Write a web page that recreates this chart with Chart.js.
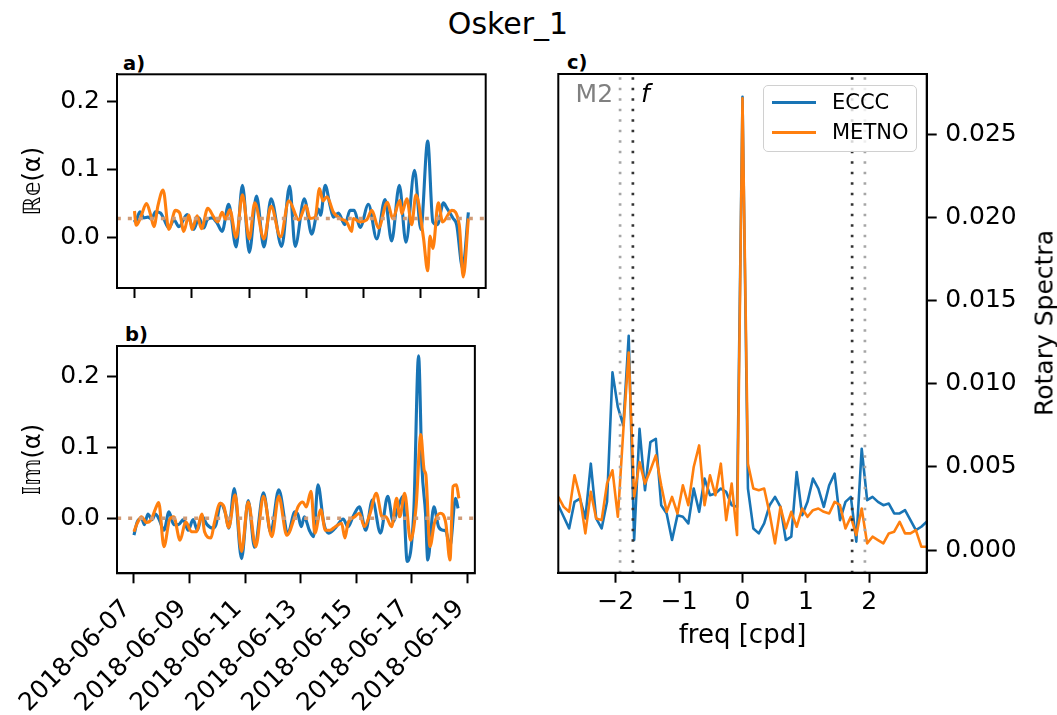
<!DOCTYPE html>
<html>
<head>
<meta charset="utf-8">
<script src="https://cdn.jsdelivr.net/npm/chart.js@4.4.1/dist/chart.umd.min.js"></script>
<style>
  body { margin: 0; background: #fff; }
  #fig { position: relative; width: 1057px; height: 715px; overflow: hidden; font-family: 'DejaVu Sans', sans-serif; color: #000; }
  #fig canvas { position: absolute; }
  .txt { position: absolute; white-space: nowrap; line-height: 1; }
  .panel { font-size: 19.5px; font-weight: bold; }
  #suptitle { left: 0; width: 1016px; top: 9px; font-size: 30px; text-align: center; }
  #ylab-spec { left: 1044px; top: 323px; font-size: 25px; transform: translate(-50%, -50%) rotate(-90deg); }
  #legend { position: absolute; left: 763px; top: 85px; width: 152px; height: 65px; border: 1px solid #d0d0d0; border-radius: 5px; background: rgba(255,255,255,0.8); }
  #legend .entry { position: absolute; left: 0; height: 24px; font-size: 21px; line-height: 24px; }
  #legend .swatch { position: absolute; left: 8px; top: 11px; width: 44px; height: 2.6px; }
  #legend .name { position: absolute; left: 68px; top: 0; }
</style>
</head>
<body>
<div id="fig">
  <div class="txt" id="suptitle">Osker_1</div>
  <div class="txt panel" style="left:123px; top:54px;">a)</div>
  <div class="txt panel" style="left:125px; top:325px;">b)</div>
  <div class="txt panel" style="left:567px; top:53px;">c)</div>
  <canvas id="re-chart" width="500" height="260" style="left:0; top:50px;"></canvas>
  <canvas id="im-chart" width="500" height="395" style="left:0; top:320px;"></canvas>
  <canvas id="spec-chart" width="517" height="665" style="left:540px; top:50px;"></canvas>
  <div id="legend"></div>
  <div class="txt" id="ylab-spec">Rotary Spectra</div>
</div>
<script>
// tick positions and labels
const dayTicks = [0, 2, 4, 6, 8, 10, 12];
const dayLabels = ['2018-06-07', '2018-06-09', '2018-06-11', '2018-06-13', '2018-06-15', '2018-06-17', '2018-06-19'];
const alphaTicks = [0, 0.1, 0.2];
const freqTicks = [-2, -1, 0, 1, 2];
const specTicks = [0, 0.005, 0.01, 0.015, 0.02, 0.025];

const seriesNames = ['ECCC', 'METNO'];

// time in days since 2018-06-07 00:00
const reTimeEccc = [0.00, 0.03, 0.19, 0.33, 0.47, 0.60, 0.73, 0.91, 1.03, 1.20, 1.38, 1.55, 1.84, 2.07, 2.25, 2.42, 2.54, 2.71, 2.89, 3.06,
  3.29, 3.55, 3.77, 4.01, 4.26, 4.52, 4.77, 5.14, 5.42, 5.61, 5.93, 6.19, 6.42, 6.50, 6.66, 6.83, 6.95, 7.12, 7.35, 7.53,
  7.67, 7.88, 8.17, 8.46, 8.75, 8.98, 9.25, 9.48, 9.78, 10.00, 10.24, 10.42, 10.58, 10.79, 10.90, 11.13, 11.25, 11.46, 11.66];
const reEccc = [0.026, 0.023, 0.038, 0.029, 0.030, 0.027, 0.038, 0.036, 0.027, 0.014, 0.026, 0.016, 0.034, 0.012, 0.029, 0.014, 0.026, 0.029, 0.021, 0.009,
  0.049, -0.014, 0.077, -0.022, 0.061, -0.014, 0.057, -0.013, 0.076, -0.013, 0.057, 0.005, 0.042, 0.033, 0.077, 0.047, 0.030, 0.036, 0.019, 0.040,
  0.040, 0.015, 0.049, -0.002, 0.056, -0.005, 0.077, -0.007, 0.099, 0.012, 0.142, 0.023, 0.019, 0.051, 0.044, 0.028, 0.019, -0.045, 0.037];

const reTimeMetno = [0.00, 0.06, 0.21, 0.42, 0.56, 0.68, 0.82, 1.00, 1.20, 1.43, 1.58, 1.72, 1.90, 2.01, 2.19, 2.34, 2.56, 2.77, 2.91, 3.06,
  3.18, 3.33, 3.55, 3.77, 4.01, 4.20, 4.52, 4.77, 5.10, 5.39, 5.74, 5.99, 6.13, 6.31, 6.46, 6.58, 6.72, 6.95, 7.18, 7.41,
  7.59, 7.64, 7.88, 8.11, 8.29, 8.52, 8.83, 9.02, 9.27, 9.33, 9.51, 9.68, 9.83, 10.09, 10.24, 10.32, 10.42, 10.61, 10.76, 11.08,
  11.34, 11.48, 11.66];
const reMetno = [0.039, 0.018, 0.029, 0.050, 0.034, 0.016, 0.047, 0.070, 0.012, 0.040, 0.036, 0.009, 0.033, 0.012, 0.032, 0.013, 0.043, 0.030, 0.023, 0.037,
  0.027, 0.041, 0.000, 0.063, -0.002, 0.051, -0.002, 0.046, 0.001, 0.054, 0.026, 0.047, 0.028, 0.030, 0.072, 0.054, 0.060, 0.037, 0.028, 0.023,
  0.009, 0.028, 0.023, 0.026, 0.040, 0.014, 0.052, 0.028, 0.055, 0.035, 0.057, 0.019, 0.063, 0.000, -0.049, 0.002, -0.016, 0.051, 0.023, 0.040,
  0.019, -0.058, 0.028];

const imTimeEccc = [0.00, 0.12, 0.27, 0.38, 0.50, 0.65, 0.77, 0.91, 1.08, 1.26, 1.43, 1.60, 1.78, 1.95, 2.13, 2.28, 2.44, 2.63, 2.83, 2.95,
  3.12, 3.29, 3.41, 3.61, 3.87, 4.11, 4.34, 4.66, 4.92, 5.21, 5.54, 5.79, 5.90, 6.02, 6.13, 6.31, 6.46, 6.62, 6.83, 7.00,
  7.24, 7.53, 7.70, 7.88, 8.11, 8.34, 8.58, 8.87, 9.13, 9.33, 9.51, 9.68, 9.83, 10.07, 10.24, 10.36, 10.49, 10.57, 10.79, 10.96,
  11.13, 11.22, 11.37, 11.57, 11.66];
const imEccc = [-0.024, -0.005, 0.000, -0.009, 0.006, -0.002, 0.006, -0.002, -0.017, 0.009, -0.009, -0.009, -0.002, -0.017, -0.002, -0.017, 0.003, -0.009, -0.014, -0.009,
  0.021, 0.007, -0.014, 0.042, -0.057, 0.025, -0.041, 0.036, -0.020, 0.040, -0.021, 0.009, 0.005, -0.012, 0.002, -0.017, -0.026, 0.047, -0.007, -0.021,
  -0.014, -0.001, -0.012, 0.002, 0.016, -0.017, 0.026, -0.021, 0.031, -0.005, 0.016, 0.031, -0.061, 0.012, 0.229, 0.073, 0.007, -0.059, 0.016, -0.012,
  -0.017, -0.018, -0.040, 0.028, 0.014];

const imTimeMetno = [0.00, 0.12, 0.27, 0.45, 0.62, 0.77, 0.89, 1.08, 1.28, 1.43, 1.66, 1.86, 2.07, 2.25, 2.44, 2.54, 2.77, 2.89, 3.10, 3.24,
  3.41, 3.64, 3.87, 4.11, 4.38, 4.66, 4.96, 5.21, 5.50, 5.79, 5.90, 6.07, 6.20, 6.37, 6.51, 6.72, 6.89, 7.05, 7.24, 7.47,
  7.59, 7.70, 7.94, 8.11, 8.29, 8.48, 8.72, 8.93, 9.06, 9.27, 9.45, 9.56, 9.74, 9.95, 10.15, 10.32, 10.44, 10.50, 10.65, 10.81,
  11.02, 11.22, 11.37, 11.48, 11.60, 11.69];
const imMetno = [-0.019, -0.007, 0.002, -0.006, -0.002, 0.013, 0.022, -0.040, -0.002, 0.002, -0.031, -0.005, -0.019, -0.019, 0.006, -0.019, -0.028, -0.007, 0.021, 0.016,
  -0.013, 0.033, -0.047, 0.023, -0.040, 0.031, -0.026, 0.031, -0.024, 0.003, 0.016, 0.023, 0.016, 0.038, -0.021, 0.012, -0.017, -0.017, -0.012, -0.007,
  -0.028, -0.007, 0.002, 0.007, -0.012, 0.005, 0.035, 0.002, 0.002, -0.012, 0.028, 0.002, 0.035, -0.031, 0.016, 0.118, 0.068, 0.062, -0.040, -0.007,
  0.007, -0.007, -0.059, 0.045, 0.047, 0.028];

// means drawn as dotted reference lines
const reMean = 0.028;
const imMean = 0.0;

// rotary spectra, frequency in cycles per day
const freq = [-2.907, -2.822, -2.736, -2.651, -2.565, -2.480, -2.394, -2.309, -2.223, -2.138, -2.052, -1.967, -1.881, -1.796, -1.710, -1.625, -1.539,
  -1.454, -1.368, -1.283, -1.197, -1.112, -1.026, -0.941, -0.855, -0.770, -0.684, -0.599, -0.513, -0.428, -0.342, -0.257, -0.171, -0.086,
  0, 0.086, 0.171, 0.257, 0.342, 0.428, 0.513, 0.599, 0.684, 0.770, 0.855, 0.941, 1.026, 1.112, 1.197, 1.283, 1.368,
  1.454, 1.539, 1.625, 1.710, 1.796, 1.881, 1.967, 2.052, 2.138, 2.223, 2.309, 2.394, 2.480, 2.565, 2.651, 2.736, 2.822, 2.907];
const specEccc = [0.0027, 0.0020, 0.0013, 0.0029, 0.0031, 0.0019, 0.0052, 0.0019, 0.0013, 0.0029, 0.0107, 0.0086, 0.0075, 0.0129, 0.0006, 0.0073, 0.0036,
  0.0065, 0.0067, 0.0027, 0.0022, 0.0006, 0.0021, 0.0020, 0.0016, 0.0037, 0.0023, 0.0043, 0.0033, 0.0034, 0.0037, 0.0035, 0.0027, 0.0026,
  0.0273, 0.0037, 0.0013, 0.0010, 0.0016, 0.0027, 0.0032, 0.0026, 0.0006, 0.0008, 0.0047, 0.0021, 0.0029, 0.0043, 0.0037, 0.0026, 0.0039,
  0.0046, 0.0018, 0.0029, 0.0032, 0.0005, 0.0061, 0.0030, 0.0032, 0.0029, 0.0027, 0.0028, 0.0022, 0.0022, 0.0024, 0.0018, 0.0012, 0.0014, 0.0017];
const specMetno = [0.0032, 0.0026, 0.0023, 0.0045, 0.0032, 0.0010, 0.0035, 0.0019, 0.0018, 0.0040, 0.0048, 0.0020, 0.0072, 0.0119, 0.0032, 0.0053, 0.0040,
  0.0048, 0.0057, 0.0039, 0.0023, 0.0032, 0.0022, 0.0039, 0.0027, 0.0050, 0.0063, 0.0027, 0.0045, 0.0033, 0.0052, 0.0018, 0.0040, 0.0009,
  0.0272, 0.0052, 0.0037, 0.0036, 0.0037, 0.0022, 0.0004, 0.0026, 0.0013, 0.0023, 0.0014, 0.0025, 0.0020, 0.0024, 0.0025, 0.0023, 0.0022,
  0.0029, 0.0027, 0.0013, 0.0020, 0.0009, 0.0025, 0.0004, 0.0008, 0.0006, 0.0004, 0.0010, 0.0011, 0.0017, 0.0010, 0.0010, 0.0012, 0.0002, 0.0002];

// M2 tide and inertial frequency
const m2Freq = 1.932;
const fFreq = 1.73;

const BLUE = '#1874b5';
const ORANGE = '#ff7f0e';
const MEAN_COLOR = '#d09b76';
const M2_COLOR = '#a6a6a6';
const F_COLOR = '#333333';

Chart.defaults.font.family = "'DejaVu Sans', sans-serif";
Chart.defaults.color = '#000';

function toPoints(xs, ys) {
  return xs.map((x, i) => ({ x: x, y: ys[i] }));
}

// box around the plot area
const frame = {
  id: 'frame',
  afterDatasetsDraw(chart) {
    const { ctx, chartArea: a } = chart;
    ctx.save();
    ctx.strokeStyle = '#000';
    ctx.lineWidth = 2;
    ctx.strokeRect(a.left, a.top, a.right - a.left, a.bottom - a.top);
    ctx.restore();
  }
};

const tickGrid = { drawOnChartArea: false, drawTicks: true, tickLength: 10, tickWidth: 2, color: '#000' };
const axisBorder = { display: true, color: '#000', width: 2 };

function timeChart(id, o) {
  return new Chart(document.getElementById(id), {
    type: 'line',
    data: {
      datasets: [
        { label: 'mean', data: [{ x: -1, y: o.mean }, { x: 13, y: o.mean }], borderColor: MEAN_COLOR,
          borderWidth: 3.3, borderDash: [4, 7], borderCapStyle: 'butt', order: 1 },
        { label: seriesNames[1], data: toPoints(o.tMetno, o.metno), borderColor: ORANGE, borderWidth: 3.1,
          cubicInterpolationMode: 'monotone', order: 2 },
        { label: seriesNames[0], data: toPoints(o.tEccc, o.eccc), borderColor: BLUE, borderWidth: 3.1,
          cubicInterpolationMode: 'monotone', order: 3 }
      ]
    },
    options: {
      responsive: false,
      animation: false,
      events: [],
      layout: { padding: { left: 0, top: o.padTop, right: 14.3, bottom: 0 } },
      elements: {
        point: { radius: 0 },
        line: { tension: 0, borderJoinStyle: 'round', fill: false }
      },
      plugins: { legend: { display: false }, tooltip: { enabled: false } },
      scales: {
        x: {
          type: 'linear', min: -0.61, max: 12.265,
          grid: tickGrid, border: axisBorder,
          ticks: {
            autoSkip: false, minRotation: o.dates ? 45 : 0, maxRotation: o.dates ? 45 : 0,
            padding: 11, labelOffset: o.dates ? -7 : 0, font: { size: 25 },
            callback: v => o.dates ? dayLabels[dayTicks.indexOf(v)] : ''
          },
          afterBuildTicks: s => { s.ticks = dayTicks.map(v => ({ value: v })); },
          afterFit: s => { s.height = o.xHeight; }
        },
        y: {
          type: 'linear', min: o.yMin, max: o.yMax,
          grid: tickGrid, border: axisBorder,
          ticks: { padding: 7, font: { size: 25 }, callback: v => v.toFixed(1) },
          afterBuildTicks: s => { s.ticks = alphaTicks.map(v => ({ value: v })); },
          afterFit: s => { s.width = 117; },
          title: { display: true, text: o.yTitle, color: '#000', font: { size: 24 }, padding: { top: 19, bottom: 0 } }
        }
      }
    },
    plugins: [frame]
  });
}

timeChart('re-chart', {
  tEccc: reTimeEccc, eccc: reEccc, tMetno: reTimeMetno, metno: reMetno, mean: reMean,
  yMin: -0.0744, yMax: 0.2405, yTitle: 'ℝ𝕖(α)', dates: false, padTop: 24.3, xHeight: 10
});

timeChart('im-chart', {
  tEccc: imTimeEccc, eccc: imEccc, tMetno: imTimeMetno, metno: imMetno, mean: imMean,
  yMin: -0.0777, yMax: 0.243, yTitle: '𝕀𝕞(α)', dates: true, padTop: 26, xHeight: 141.7
});

// M2 and f labels next to the vertical lines
const tideLabels = {
  id: 'tideLabels',
  afterDraw(chart) {
    const { ctx, chartArea, scales: { x } } = chart;
    const y = chartArea.top + 21;
    ctx.save();
    ctx.textBaseline = 'middle';
    ctx.font = "25px 'DejaVu Sans'";
    ctx.fillStyle = '#808080';
    ctx.textAlign = 'right';
    ctx.fillText('M2', x.getPixelForValue(-m2Freq) - 7, y);
    ctx.font = "italic 25px 'DejaVu Sans'";
    ctx.fillStyle = '#000';
    ctx.textAlign = 'left';
    ctx.fillText('f', x.getPixelForValue(-fFreq) + 8, y);
    ctx.restore();
  }
};

function vline(xv, color) {
  return { data: [{ x: xv, y: -1 }, { x: xv, y: 1 }], borderColor: color, borderWidth: 2.7,
    borderDash: [2.7, 7.8], borderCapStyle: 'butt', order: 0 };
}

const specChart = new Chart(document.getElementById('spec-chart'), {
  type: 'line',
  data: {
    datasets: [
      { label: seriesNames[0], data: toPoints(freq, specEccc), borderColor: BLUE, borderWidth: 2.6, order: 3 },
      { label: seriesNames[1], data: toPoints(freq, specMetno), borderColor: ORANGE, borderWidth: 2.6, order: 2 },
      vline(-m2Freq, M2_COLOR), vline(m2Freq, M2_COLOR),
      vline(-fFreq, F_COLOR), vline(fFreq, F_COLOR)
    ]
  },
  options: {
    responsive: false,
    animation: false,
    events: [],
    layout: { padding: { left: 18.3, top: 24, right: 0, bottom: 0 } },
    elements: {
      point: { radius: 0 },
      line: { tension: 0, borderJoinStyle: 'round', fill: false }
    },
    plugins: { legend: { display: false }, tooltip: { enabled: false } },
    scales: {
      x: {
        type: 'linear', min: -2.907, max: 2.907,
        grid: tickGrid, border: axisBorder,
        ticks: { padding: 5, font: { size: 25 }, maxRotation: 0, callback: v => v < 0 ? '\u2212' + (-v) : String(v) },
        afterBuildTicks: s => { s.ticks = freqTicks.map(v => ({ value: v })); },
        afterFit: s => { s.height = 142.3; },
        title: { display: true, text: 'freq [cpd]', font: { size: 26 }, padding: { top: 0, bottom: 63 } }
      },
      y: {
        type: 'linear', position: 'right', min: -0.001367, max: 0.02867,
        grid: tickGrid, border: axisBorder,
        ticks: { padding: 8.5, font: { size: 25 }, callback: v => v.toFixed(3) },
        afterBuildTicks: s => { s.ticks = specTicks.map(v => ({ value: v })); },
        afterFit: s => { s.width = 130.3; }
      }
    }
  },
  plugins: [frame, tideLabels]
});

// legend for the spectra panel, built from its series
const legend = document.getElementById('legend');
specChart.data.datasets.slice(0, 2).forEach((ds, i) => {
  const row = document.createElement('div');
  row.className = 'entry';
  row.style.top = (4 + i * 30) + 'px';
  row.innerHTML = '<span class="swatch" style="background:' + ds.borderColor + '"></span><span class="name">' + ds.label + '</span>';
  legend.appendChild(row);
});
</script>
</body>
</html>
